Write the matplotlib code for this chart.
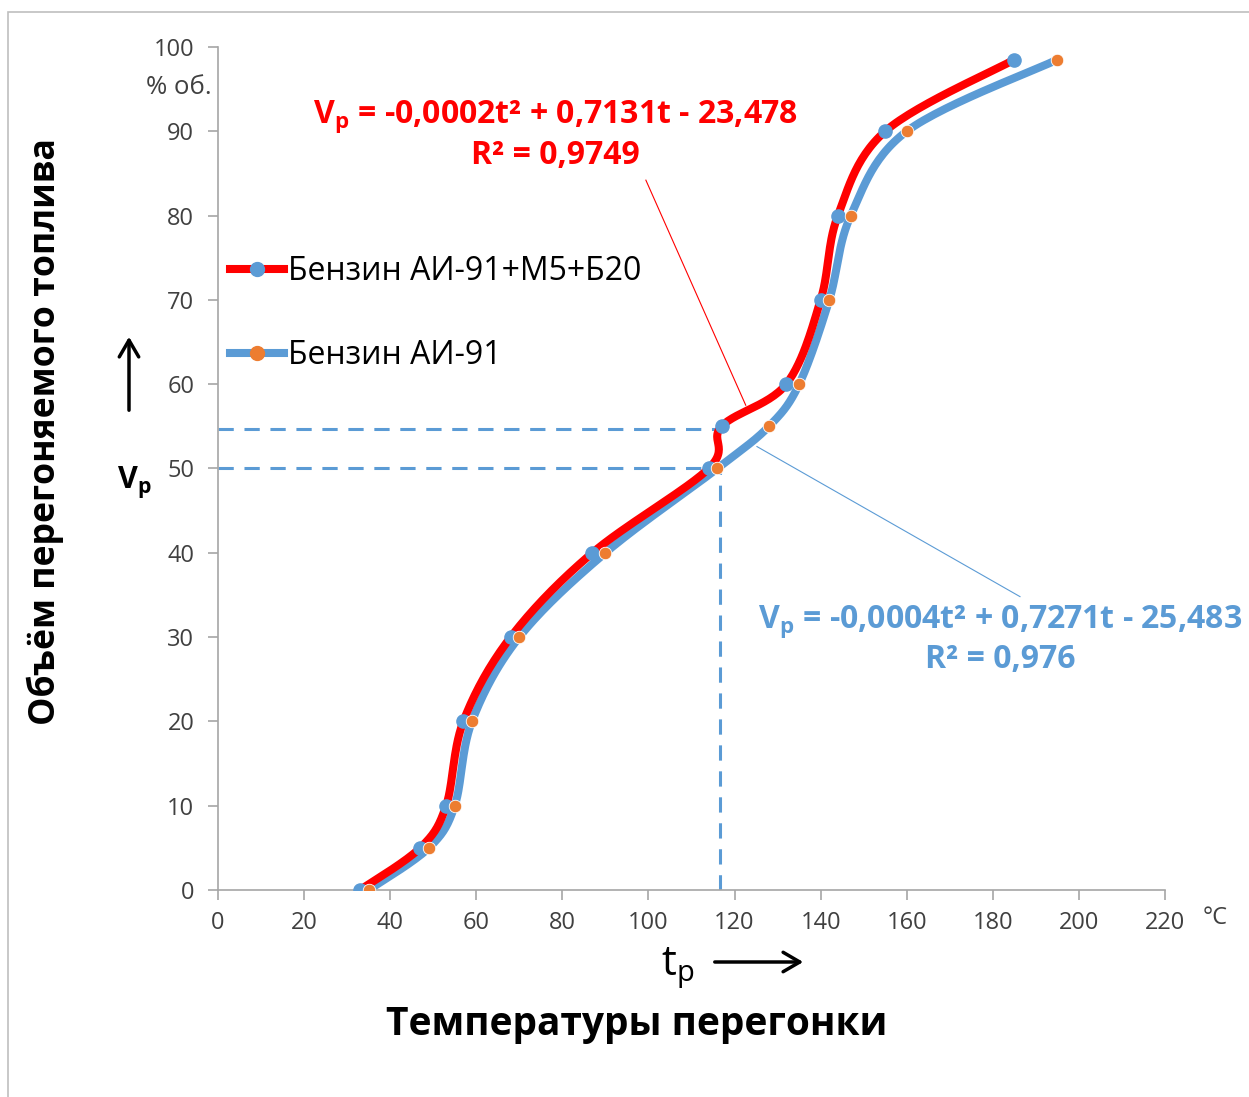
import numpy as np
import matplotlib
matplotlib.use("Agg")
import matplotlib.pyplot as plt
from matplotlib.lines import Line2D
from matplotlib.patches import Rectangle, FancyArrowPatch

plt.rcParams['font.family'] = ['Open Sans', 'DejaVu Sans']
plt.rcParams['mathtext.fontset'] = 'custom'
plt.rcParams['mathtext.rm'] = 'Open Sans'
plt.rcParams['mathtext.bf'] = 'Open Sans:bold'

# distillation curves: temperature (°C) vs distilled volume (% vol.)
t_mix = [33, 47, 53, 57, 68, 87, 114, 117, 132, 140, 144, 155, 185]
v_mix = [0, 5, 10, 20, 30, 40, 50, 55, 60, 70, 80, 90, 98.5]
t_base = [35, 49, 55, 59, 70, 90, 116, 128, 135, 142, 147, 160, 195]
v_base = [0, 5, 10, 20, 30, 40, 50, 55, 60, 70, 80, 90, 98.5]

label_mix = "Бензин АИ-91+М5+Б20"
label_base = "Бензин АИ-91"
x_ticks = list(range(0, 221, 20))
y_ticks = list(range(0, 101, 10))

# reference levels
t_ref = 116.6
v_ref_mix = 54.7
v_ref_base = 50.0

RED = "#FF0000"
BLUE = "#5B9BD5"
ORANGE = "#ED7D31"


def smooth(x, y, n=30):
    """Excel-like smoothed line: cubic Bezier with Catmull-Rom handles."""
    p = np.column_stack([x, y]).astype(float)
    p = np.vstack([p[0], p, p[-1]])
    out = []
    for i in range(1, len(p) - 2):
        p0, p1, p2, p3 = p[i - 1], p[i], p[i + 1], p[i + 2]
        c1 = p1 + (p2 - p0) / 6
        c2 = p2 - (p3 - p1) / 6
        s = np.linspace(0, 1, n)[:, None]
        seg = ((1 - s) ** 3) * p1 + 3 * ((1 - s) ** 2) * s * c1 + 3 * (1 - s) * s ** 2 * c2 + s ** 3 * p2
        out.append(seg if i == 1 else seg[1:])
    out = np.vstack(out)
    return out[:, 0], out[:, 1]


def fx(px):
    return px / 1249


def fy(py):
    return 1 - py / 1097


fig = plt.figure(figsize=(12.49, 10.97), dpi=100)
ax = fig.add_axes([0.1745, 0.1887, 0.7583, 0.7685])

# dashed helper lines
dash = dict(color=BLUE, lw=2.2, ls=(0, (5, 3.5)), zorder=1)
ax.plot([0, t_ref], [v_ref_mix, v_ref_mix], **dash)
ax.plot([0, t_ref], [v_ref_base, v_ref_base], **dash)
ax.plot([t_ref, t_ref], [0, v_ref_base], **dash)

xs, ys = smooth(t_base, v_base)
ax.plot(xs, ys, color=BLUE, lw=5.8, solid_capstyle='round', zorder=2)
ax.plot(t_base, v_base, 'o', color=ORANGE, ms=9, mec='white', mew=0.6, zorder=4)
xs, ys = smooth(t_mix, v_mix)
ax.plot(xs, ys, color=RED, lw=5.8, solid_capstyle='round', zorder=3)
ax.plot(t_mix, v_mix, 'o', color=BLUE, ms=9.5, mec=BLUE, zorder=3.5)

# leader lines of the trendline labels
ax.plot([99.4, 122.6], [84.2, 57.5], color=RED, lw=0.8, zorder=1)
ax.plot([125.2, 186.3], [52.6, 34.8], color=BLUE, lw=0.8, zorder=1)

ax.set_xlim(0, 220)
ax.set_ylim(0, 100)
ax.set_xticks(x_ticks)
ax.set_yticks(y_ticks)
for s in ['top', 'right']:
    ax.spines[s].set_visible(False)
for s in ['left', 'bottom']:
    ax.spines[s].set_color('#A6A6A6')
    ax.spines[s].set_linewidth(1.2)
ax.tick_params(colors='#A6A6A6', labelcolor='#404040', labelsize=17, length=7, width=1.2)
ax.tick_params(axis='x', pad=8)
ax.tick_params(axis='y', pad=10)

# legend
handles = [
    Line2D([], [], color=RED, lw=5.8, marker='o', ms=10, mfc=BLUE, mec=BLUE),
    Line2D([], [], color=BLUE, lw=5.8, marker='o', ms=10, mfc=ORANGE, mec=ORANGE),
]
fig.legend(handles, [label_mix, label_base], loc='upper left', bbox_to_anchor=(fx(230), fy(255)),
           frameon=False, fontsize=23, handlelength=1.7, handletextpad=0.1, labelspacing=1.6,
           borderaxespad=0, borderpad=0)

# trendline equations
eq = dict(fontsize=23, fontweight='bold', ha='center', va='center')
fig.text(fx(555), fy(117), r"$\mathbf{V_p}$ = -0,0002t² + 0,7131t - 23,478", color=RED, **eq)
fig.text(fx(555), fy(155), "R² = 0,9749", color=RED, **eq)
fig.text(fx(1000), fy(622), r"$\mathbf{V_p}$ = -0,0004t² + 0,7271t - 25,483", color=BLUE, **eq)
fig.text(fx(1000), fy(660), "R² = 0,976", color=BLUE, **eq)

# axis titles and units
fig.text(fx(45), fy(432), "Объём перегоняемого топлива", rotation=90, fontsize=25.7,
         fontweight='bold', ha='center', va='center')
fig.text(fx(637), fy(1025), "Температуры перегонки", fontsize=28, fontweight='bold',
         ha='center', va='center')
fig.text(fx(678), fy(968), r"t$_\mathrm{p}$", fontsize=30, ha='center', va='center')
fig.text(fx(134), fy(483), r"$\mathbf{V_p}$", fontsize=22, ha='center', va='center')
fig.text(fx(179), fy(88), "% об.", fontsize=18.5, color='#404040', ha='center', va='center')
fig.text(fx(1215), fy(918), "°C", fontsize=17, color='#404040', ha='center', va='center')

# arrows next to the axis symbols
arrow = dict(transform=fig.transFigure, arrowstyle='->,head_length=12,head_width=7', lw=2.5,
             color='black', mutation_scale=1)
fig.add_artist(FancyArrowPatch((fx(712), fy(962)), (fx(806), fy(962)), **arrow))
fig.add_artist(FancyArrowPatch((fx(129), fy(413)), (fx(129), fy(334)), **arrow))

# chart area border
fig.add_artist(Rectangle((fx(8), -0.1), 1.2, fy(12) + 0.1, transform=fig.transFigure,
                         fill=False, ec='#BFBFBF', lw=1.2))

fig.savefig("out.png", dpi=100, facecolor='white')
